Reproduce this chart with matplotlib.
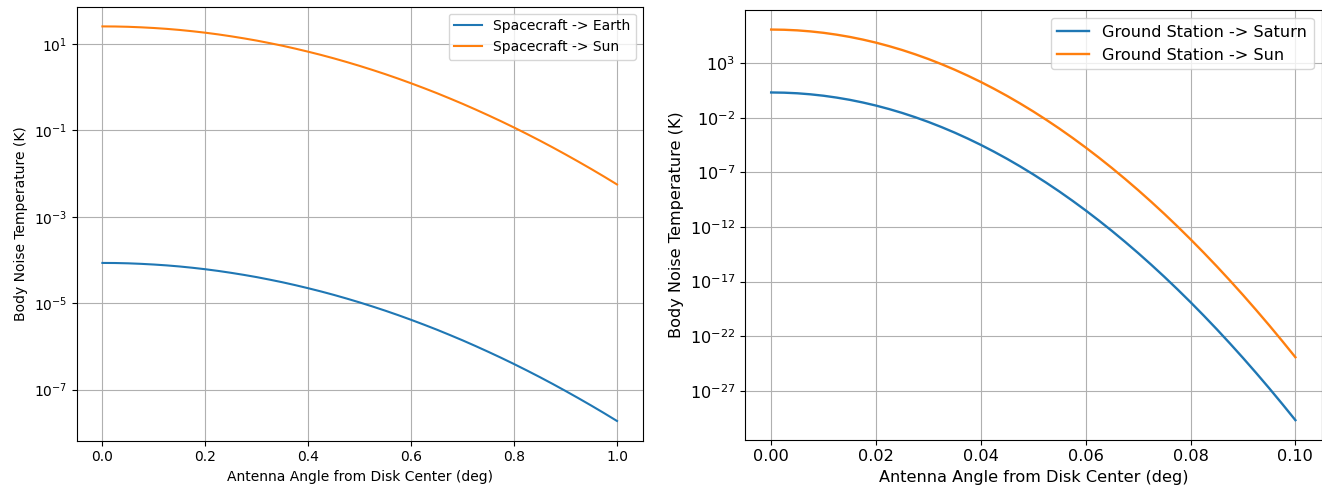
import numpy as np
import matplotlib.pyplot as plt
from matplotlib.ticker import NullLocator

# angle from disk center (deg)
angle_sc = [0.000, 0.025, 0.050, 0.075, 0.100, 0.125, 0.150, 0.175, 0.200, 0.225, 0.250,
            0.275, 0.300, 0.325, 0.350, 0.375, 0.400, 0.425, 0.450, 0.475, 0.500,
            0.525, 0.550, 0.575, 0.600, 0.625, 0.650, 0.675, 0.700, 0.725, 0.750,
            0.775, 0.800, 0.825, 0.850, 0.875, 0.900, 0.925, 0.950, 0.975, 1.000]
angle_gs = [0.0000, 0.0025, 0.0050, 0.0075, 0.0100, 0.0125, 0.0150, 0.0175, 0.0200, 0.0225, 0.0250,
            0.0275, 0.0300, 0.0325, 0.0350, 0.0375, 0.0400, 0.0425, 0.0450, 0.0475, 0.0500,
            0.0525, 0.0550, 0.0575, 0.0600, 0.0625, 0.0650, 0.0675, 0.0700, 0.0725, 0.0750,
            0.0775, 0.0800, 0.0825, 0.0850, 0.0875, 0.0900, 0.0925, 0.0950, 0.0975, 0.1000]

# body noise temperature as log10(K)
log_sc_earth = [-4.068, -4.070, -4.077, -4.089, -4.105, -4.125, -4.150, -4.180, -4.214, -4.253, -4.297,
                -4.345, -4.397, -4.455, -4.516, -4.583, -4.654, -4.729, -4.809, -4.894, -4.983,
                -5.077, -5.175, -5.278, -5.386, -5.498, -5.614, -5.736, -5.861, -5.992, -6.127,
                -6.266, -6.410, -6.559, -6.712, -6.870, -7.033, -7.200, -7.371, -7.547, -7.728]
log_sc_sun = [1.409, 1.407, 1.400, 1.388, 1.372, 1.352, 1.327, 1.297, 1.263, 1.224, 1.180,
              1.132, 1.080, 1.022, 0.961, 0.894, 0.823, 0.748, 0.668, 0.583, 0.494,
              0.400, 0.302, 0.199, 0.091, -0.021, -0.137, -0.259, -0.384, -0.515, -0.650,
              -0.789, -0.933, -1.082, -1.235, -1.393, -1.556, -1.723, -1.894, -2.070, -2.251]
log_gs_saturn = [0.31, 0.29, 0.235, 0.14, 0.01, -0.16, -0.365, -0.61, -0.89, -1.21, -1.565,
                 -1.96, -2.39, -2.86, -3.365, -3.91, -4.49, -5.11, -5.765, -6.46, -7.19,
                 -7.96, -8.765, -9.61, -10.49, -11.41, -12.365, -13.36, -14.39, -15.46, -16.565,
                 -17.71, -18.89, -20.11, -21.365, -22.66, -23.99, -25.36, -26.765, -28.21, -29.69]
log_gs_sun = [6.07, 6.05, 5.995, 5.90, 5.77, 5.60, 5.395, 5.15, 4.87, 4.55, 4.195,
              3.80, 3.37, 2.90, 2.395, 1.85, 1.27, 0.65, -0.005, -0.70, -1.43,
              -2.20, -3.005, -3.85, -4.73, -5.65, -6.605, -7.60, -8.63, -9.70, -10.805,
              -11.95, -13.13, -14.35, -15.605, -16.90, -18.23, -19.60, -21.005, -22.45, -23.93]

yticks_sc = [1e1, 1e-1, 1e-3, 1e-5, 1e-7]
yticks_gs = [1e3, 1e-2, 1e-7, 1e-12, 1e-17, 1e-22, 1e-27]
xticks_sc = [0.0, 0.2, 0.4, 0.6, 0.8, 1.0]
xticks_gs = [0.00, 0.02, 0.04, 0.06, 0.08, 0.10]

fig = plt.figure(figsize=(13.22, 4.91), dpi=100)

# spacecraft panel
ax1 = fig.add_axes([0.058, 0.1024, 0.4282, 0.884])
ax1.plot(angle_sc, np.power(10.0, log_sc_earth), label="Spacecraft -> Earth")
ax1.plot(angle_sc, np.power(10.0, log_sc_sun), label="Spacecraft -> Sun")
ax1.set_yscale("log")
ax1.set_yticks(yticks_sc)
ax1.yaxis.set_minor_locator(NullLocator())
ax1.set_xticks(xticks_sc)
ax1.set_xlabel("Antenna Angle from Disk Center (deg)")
ax1.set_ylabel("Body Noise Temperature (K)")
ax1.grid(True)
ax1.legend(loc="upper right")

# ground station panel (rendered a bit larger in the source)
fs = 11.6
ax2 = fig.add_axes([0.5635, 0.1045, 0.4362, 0.8751])
ax2.plot(angle_gs, np.power(10.0, log_gs_saturn), lw=1.7, label="Ground Station -> Saturn")
ax2.plot(angle_gs, np.power(10.0, log_gs_sun), lw=1.7, label="Ground Station -> Sun")
ax2.set_yscale("log")
ax2.set_yticks(yticks_gs)
ax2.yaxis.set_minor_locator(NullLocator())
ax2.set_xticks(xticks_gs)
ax2.tick_params(labelsize=fs)
ax2.set_xlabel("Antenna Angle from Disk Center (deg)", fontsize=fs)
ax2.set_ylabel("Body Noise Temperature (K)", fontsize=fs)
ax2.grid(True)
ax2.legend(loc="upper right", fontsize=fs)

fig.savefig("out.png", dpi=100)
